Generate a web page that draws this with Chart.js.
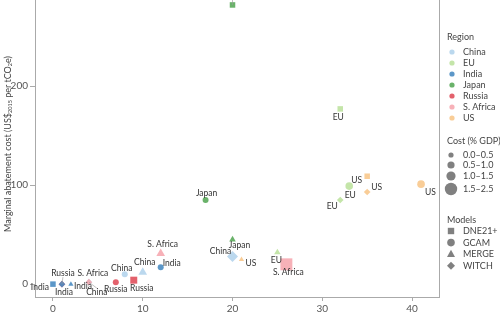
<!DOCTYPE html>
<html>
<head>
<meta charset="utf-8">
<script src="https://cdn.jsdelivr.net/npm/chart.js@4/dist/chart.umd.min.js"></script>
<style>
  body { margin: 0; background: #fff; }
  #wrap { width: 500px; height: 319px; }
</style>
</head>
<body>
<div id="wrap"><canvas id="chart" width="500" height="319"></canvas></div>
<script>
"use strict";

// categories
var regions = ["China", "EU", "India", "Japan", "Russia", "S. Africa", "US"];
var models = ["DNE21+", "GCAM", "MERGE", "WITCH"];
var costBands = ["0.0\u20130.5", "0.5\u20131.0", "1.0\u20131.5", "1.5\u20132.5"];
var xTicks = [0, 10, 20, 30, 40];
var yTicks = [0, 100, 200];

// one entry per point: cost (% GDP) x, abatement cost y
var pointX      = [0, 1, 1, 2, 4, 4, 7, 8, 9, 10, 12, 12, 17, 20, 20, 20, 21, 25, 26, 32, 32, 33, 35, 35, 41];
var pointY      = [0, 0, 0, 0, 2, 2, 2, 10, 4, 12, 17, 31, 85, 45, 28, 282, 25, 32, 20, 85, 177, 99, 109, 93, 101];
var pointRegion = [2, 4, 2, 2, 0, 5, 4, 0, 4, 0, 2, 5, 3, 3, 0, 3, 6, 1, 5, 1, 1, 1, 6, 6, 6];
var pointModel  = [0, 3, 3, 2, 3, 3, 1, 1, 0, 2, 1, 2, 1, 2, 3, 0, 2, 2, 0, 3, 0, 1, 0, 3, 1];
var pointCost   = [0, 0, 0, 0, 0, 0, 0, 0, 1, 2, 0, 2, 0, 1, 2, 0, 0, 1, 3, 0, 0, 1, 0, 0, 1];
var pointLabel  = ["India", "Russia", "India", "India", "China", "S. Africa", "Russia", "China", "Russia", "China",
                   "India", "S. Africa", "Japan", "Japan", "China", "Japan", "US", "EU", "S. Africa", "EU",
                   "EU", "EU", "US", "US", "US"];

// styles
var regionColors = ["rgba(180,212,236,0.9)", "rgba(190,226,160,0.9)", "rgba(74,140,194,0.9)", "rgba(90,170,90,0.9)",
                    "rgba(224,80,92,0.9)", "rgba(246,168,176,0.9)", "rgba(248,200,140,0.9)"];
var modelShapes = ["rect", "circle", "triangle", "rectRot"];
var shapeScale = [1.3, 1, 1, 1.1];
var costRadius = [3, 3.8, 5, 6.5];
// label offsets from the point centre: dx, dy, align, leader line
var labelPos = [
  [-4, 3, "right", false], [1, -11, "center", true], [2, 8, "center", false], [3, 2, "left", false],
  [8, 10, "center", true], [4, -9, "center", false], [0, 7, "center", false], [-3, -6, "center", false],
  [8, 8, "center", false], [2, -10, "center", false], [2, -4, "left", false], [2, -9, "center", false],
  [1, -7, "center", false], [7, 6, "center", false], [-12, -5, "center", false], [0, -12, "center", true],
  [4, 4, "left", false], [-1, 8, "center", false], [2, 8, "center", false], [-8, 6, "center", false],
  [-2, 8, "center", false], [1, 9, "center", false], [-5, 4, "right", false], [4, -5, "left", false],
  [4, 8, "left", false]
];

var FONT = "Lato, 'Open Sans', sans-serif";

function radiusOf(i) {
  return costRadius[pointCost[i]] * shapeScale[pointModel[i]];
}

var datasets = models.map(function(m, mi) {
  var pts = [];
  for (var i = 0; i < pointX.length; i++) {
    if (pointModel[i] === mi) pts.push({ x: pointX[i], y: pointY[i], i: i });
  }
  return {
    label: m,
    data: pts,
    pointStyle: modelShapes[mi],
    pointRadius: function(ctx) { return ctx.raw ? radiusOf(ctx.raw.i) : 3; },
    pointHoverRadius: function(ctx) { return ctx.raw ? radiusOf(ctx.raw.i) : 3; },
    backgroundColor: function(ctx) { return ctx.raw ? regionColors[pointRegion[ctx.raw.i]] : "#888"; },
    borderWidth: 0,
    clip: false
  };
});

var labelPlugin = {
  id: "pointLabels",
  afterDatasetsDraw: function(chart) {
    var c = chart.ctx, xs = chart.scales.x, ys = chart.scales.y;
    c.save();
    c.font = "8.5px " + FONT;
    c.fillStyle = "#333";
    c.textBaseline = "middle";
    for (var i = 0; i < pointX.length; i++) {
      var px = xs.getPixelForValue(pointX[i]);
      var py = ys.getPixelForValue(pointY[i]);
      var p = labelPos[i];
      if (p[3]) {
        c.strokeStyle = "#999";
        c.lineWidth = 0.6;
        c.beginPath();
        c.moveTo(px, py);
        c.lineTo(px + p[0], py + p[1] + (p[1] < 0 ? 4 : -4));
        c.stroke();
      }
      c.textAlign = p[2];
      c.fillText(pointLabel[i], px + p[0], py + p[1]);
    }
    c.restore();
  }
};

function drawShape(c, shape, x, y, r) {
  c.beginPath();
  if (shape === "circle") {
    c.arc(x, y, r, 0, Math.PI * 2);
  } else if (shape === "rect") {
    c.rect(x - r, y - r, 2 * r, 2 * r);
  } else if (shape === "triangle") {
    c.moveTo(x, y - r * 1.1);
    c.lineTo(x + r, y + r * 0.7);
    c.lineTo(x - r, y + r * 0.7);
    c.closePath();
  } else {
    c.moveTo(x, y - r);
    c.lineTo(x + r, y);
    c.lineTo(x, y + r);
    c.lineTo(x - r, y);
    c.closePath();
  }
  c.fill();
}

var framePlugin = {
  id: "frameAndLegend",
  afterDraw: function(chart) {
    var c = chart.ctx, a = chart.chartArea;
    c.save();
    // right frame line
    c.strokeStyle = "#aaa";
    c.lineWidth = 1;
    c.beginPath();
    c.moveTo(a.right + 0.5, 0);
    c.lineTo(a.right + 0.5, a.bottom);
    c.stroke();

    // y axis title with subscripts
    c.fillStyle = "#444";
    c.translate(8, 144);
    c.rotate(-Math.PI / 2);
    var parts = [["Marginal abatement cost (US$", 9, 0], ["2015", 5.5, 2.5], [" per tCO", 9, 0], ["2", 5.5, 2.5], ["e)", 9, 0]];
    var total = 0;
    parts.forEach(function(p) { c.font = p[1] + "px " + FONT; total += c.measureText(p[0]).width; });
    var tx = -total / 2;
    c.textBaseline = "middle";
    c.textAlign = "left";
    parts.forEach(function(p) {
      c.font = p[1] + "px " + FONT;
      c.fillText(p[0], tx, p[2]);
      tx += c.measureText(p[0]).width;
    });
    c.restore();

    // legend
    c.save();
    c.textBaseline = "middle";
    c.textAlign = "left";
    c.font = "9px " + FONT;
    c.fillStyle = "#444";
    var lx = 447, sx = 452, tx2 = 463;
    c.fillText("Region", lx, 37);
    regions.forEach(function(r, i) {
      c.fillStyle = regionColors[i];
      drawShape(c, "circle", sx, 52 + i * 11, 2.6);
      c.fillStyle = "#444";
      c.fillText(r, tx2, 52 + i * 11);
    });
    c.fillText("Cost (% GDP)", lx, 141);
    var cy = [155, 165, 176, 189];
    costBands.forEach(function(b, i) {
      c.fillStyle = "#808080";
      drawShape(c, "circle", sx - 1, cy[i], [2.6, 3.6, 4.6, 6.2][i]);
      c.fillStyle = "#444";
      c.fillText(b, tx2, cy[i]);
    });
    c.fillText("Models", lx, 220);
    models.forEach(function(m, i) {
      var y = 231 + i * 11.6;
      c.fillStyle = "#808080";
      drawShape(c, modelShapes[i], sx - 1, y, [3.2, 3.8, 4, 4][i]);
      c.fillStyle = "#444";
      c.fillText(m, tx2, y);
    });
    c.restore();
  }
};

function axisTicks(list) {
  return function(scale) {
    scale.ticks = list.map(function(v) { return { value: v }; });
  };
}

new Chart(document.getElementById("chart"), {
  type: "scatter",
  data: { datasets: datasets },
  options: {
    responsive: false,
    animation: false,
    layout: { autoPadding: false, padding: { top: 0, right: 61, left: 0, bottom: 0 } },
    plugins: { legend: { display: false }, tooltip: { enabled: false } },
    scales: {
      x: {
        type: "linear",
        min: -2,
        max: 43,
        afterBuildTicks: axisTicks(xTicks),
        afterFit: function(s) { s.height = 22; s.paddingLeft = 0; s.paddingRight = 0; },
        border: { color: "#aaa", width: 1 },
        grid: { drawOnChartArea: false, drawTicks: true, tickLength: 4, color: "#aaa" },
        ticks: { color: "#555", font: { family: FONT, size: 10 }, padding: 2, maxRotation: 0 }
      },
      y: {
        type: "linear",
        min: -13,
        max: 287,
        afterBuildTicks: axisTicks(yTicks),
        afterFit: function(s) { s.width = 35; s.paddingTop = 0; s.paddingBottom = 0; },
        border: { color: "#aaa", width: 1 },
        grid: { drawOnChartArea: false, drawTicks: true, tickLength: 5, color: "#aaa" },
        ticks: { color: "#555", font: { family: FONT, size: 10 }, padding: 2 }
      }
    }
  },
  plugins: [labelPlugin, framePlugin]
});
</script>
</body>
</html>
